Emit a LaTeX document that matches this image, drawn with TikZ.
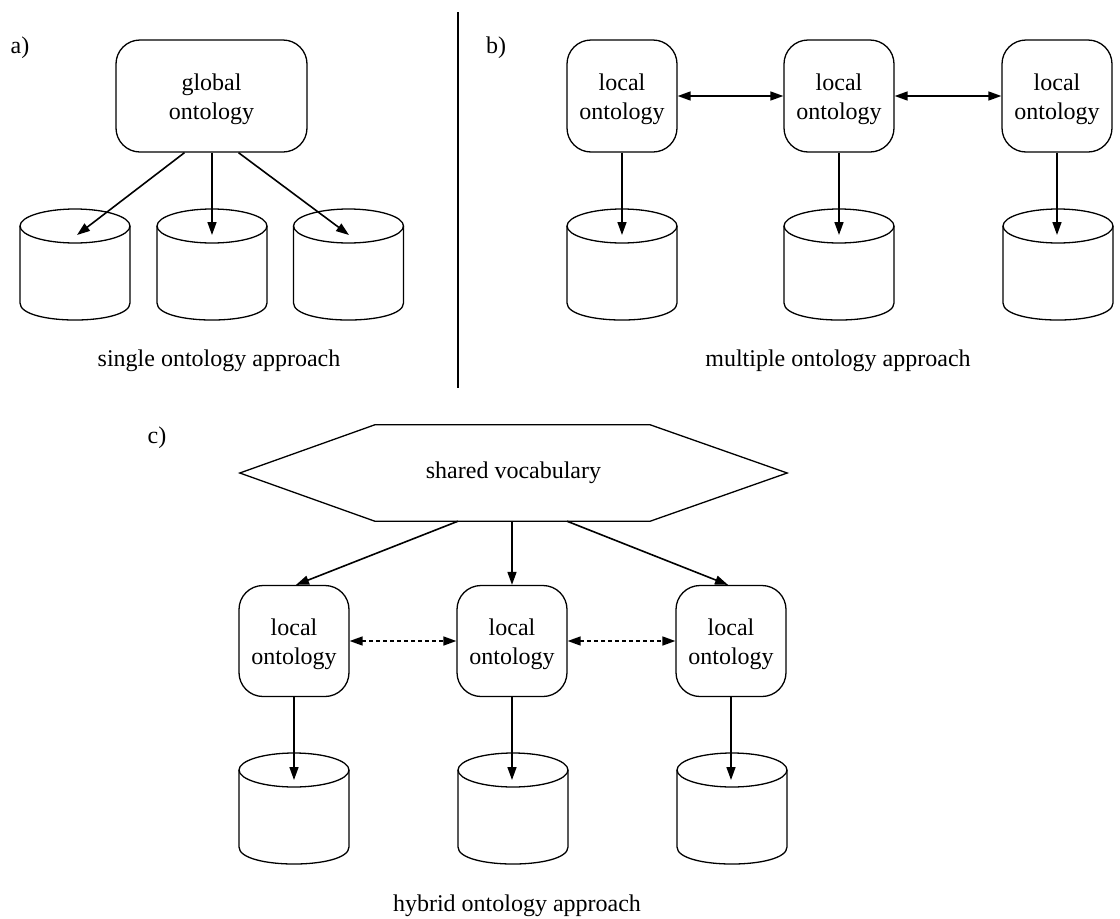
\documentclass[tikz,border=0pt]{standalone}
\usepackage{fontspec}
\setmainfont{Liberation Serif}
\usetikzlibrary{arrows.meta,calc}
\newcommand\upstrut{\rule{0pt}{23pt}}
\begin{document}
\begin{tikzpicture}[x=1pt,y=-1pt,
  every node/.style={font=\fontsize{24}{29}\selectfont},
  onto/.style={draw,line width=1.3pt,rounded corners=24pt,align=center,minimum width=110pt,minimum height=112pt,inner sep=0pt},
  arr/.style={line width=1.6pt,-{Triangle[length=13pt,width=9pt]}},
  darr/.style={line width=1.6pt,{Triangle[length=13pt,width=9pt]}-{Triangle[length=13pt,width=9pt]}},
  ddarr/.style={darr,dash pattern=on 4pt off 3pt},
  lbl/.style={inner sep=0pt},
  db/.pic={
    \draw[line width=1.3pt] (0,0) ellipse [x radius=55, y radius=17];
    \draw[line width=1.3pt] (-55,0) -- (-55,77) .. controls (-55,99.7) and (55,99.7) .. (55,77) -- (55,0);
  }]
\useasboundingbox (0,0) rectangle (1120,919);

% ---------- panel a ----------
\node[lbl] (la) at (20,48) {a)};
\node[onto,minimum width=191pt] (g) at (211.5,96) {\upstrut global\\ontology};
\pic at (75,226) {db};
\pic at (212,226) {db};
\pic at (348.5,226) {db};
\coordinate (ta1) at (77,235);
\coordinate (ta2) at (212,235);
\coordinate (ta3) at (349,235);
\draw[arr] ([xshift=-27pt]g.south) -- (ta1);
\draw[arr] ([xshift=0.5pt]g.south) -- (ta2);
\draw[arr] ([xshift=27pt]g.south) -- (ta3);
\node (ca) at (219,361) {single ontology approach};

% separator
\coordinate (s1) at (458,12);
\coordinate (s2) at (458,388);
\draw[line width=2pt] (s1) -- (s2);

% ---------- panel b ----------
\node[lbl] (lb) at (496,48) {b)};
\node[onto] (b1) at (622,96) {\upstrut local\\ontology};
\node[onto] (b2) at (839,96) {\upstrut local\\ontology};
\node[onto] (b3) at (1057,96) {\upstrut local\\ontology};
\draw[darr] (b1.east) -- (b2.west);
\draw[darr] (b2.east) -- (b3.west);
\pic at (622,226) {db};
\pic at (839,226) {db};
\pic at (1058,226) {db};
\coordinate (tb1) at (622,235);
\coordinate (tb2) at (839,235);
\coordinate (tb3) at (1057,235);
\draw[arr] (b1.south) -- (tb1);
\draw[arr] (b2.south) -- (tb2);
\draw[arr] (b3.south) -- (tb3);
\node (cb) at (838,361) {multiple ontology approach};

% ---------- panel c ----------
\node[lbl] (lc) at (157,438) {c)};
\node[minimum width=547pt,minimum height=96pt,inner sep=0pt] (sv) at (513.5,473) {shared vocabulary};
\draw[line width=1.3pt] (sv.west) -- ($(sv.north west)+(135,0)$) -- ($(sv.north east)+(-137,0)$) -- (sv.east)
  -- ($(sv.south east)+(-137,0)$) -- ($(sv.south west)+(135,0)$) -- cycle;
\node[onto,minimum height=111pt] (l1) at (294,641) {\upstrut local\\ontology};
\node[onto,minimum height=111pt] (l2) at (512,641) {\upstrut local\\ontology};
\node[onto,minimum height=111pt] (l3) at (731,641) {\upstrut local\\ontology};
\draw[arr] ([xshift=-55.5pt]sv.south) -- ([xshift=2pt]l1.north);
\draw[arr] ([xshift=-1.5pt]sv.south) -- (l2.north);
\draw[arr] ([xshift=53.5pt]sv.south) -- ([xshift=-3pt]l3.north);
\draw[ddarr] (l1.east) -- (l2.west);
\draw[ddarr] (l2.east) -- (l3.west);
\pic at (294,770) {db};
\pic at (513,770) {db};
\pic at (732,770) {db};
\coordinate (tc1) at (294,780);
\coordinate (tc2) at (512,780);
\coordinate (tc3) at (731,780);
\draw[arr] (l1.south) -- (tc1);
\draw[arr] (l2.south) -- (tc2);
\draw[arr] (l3.south) -- (tc3);
\node (cc) at (517,906) {hybrid ontology approach};
\end{tikzpicture}
\end{document}
